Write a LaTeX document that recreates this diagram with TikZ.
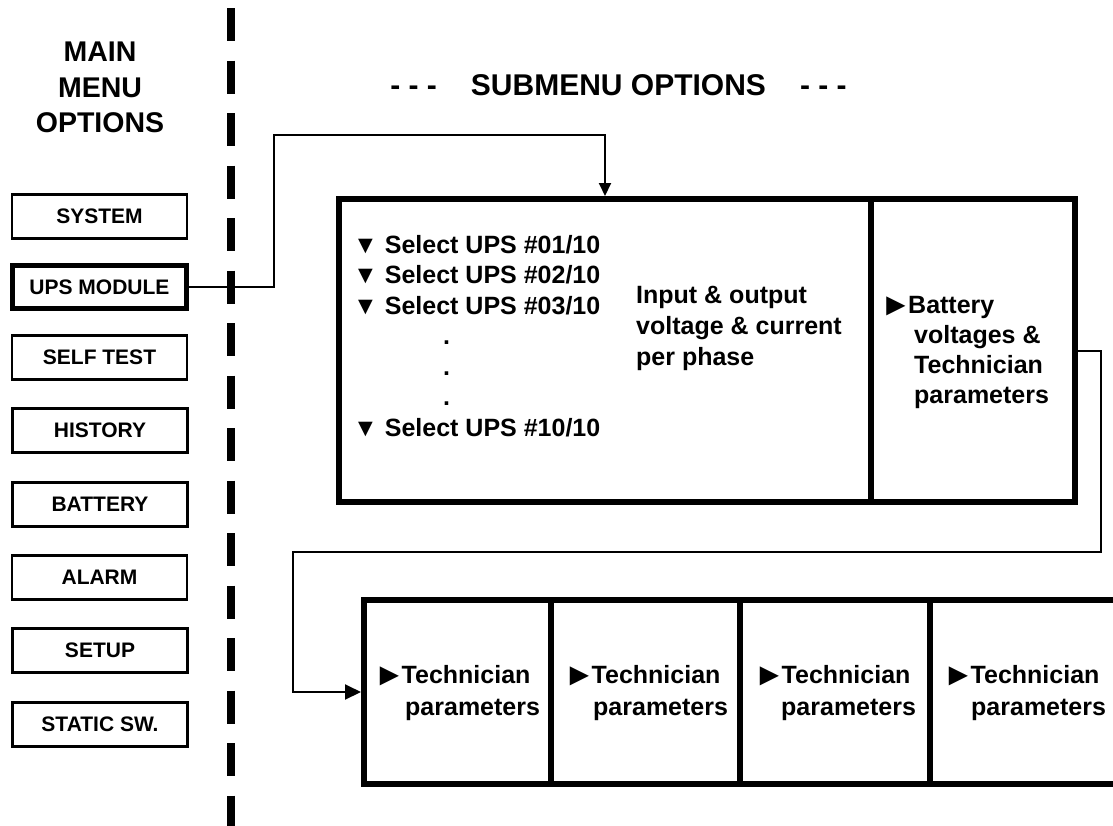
\documentclass[tikz,border=0pt]{standalone}
\usepackage{fontspec}
\setmainfont{Liberation Sans}
\usetikzlibrary{arrows.meta}
\newcommand{\ptr}{\makebox[28pt][l]{\raisebox{-2pt}{\fontsize{32}{30}\selectfont ►}}}
\begin{document}
\begin{tikzpicture}[x=1pt,y=-1pt,
  menubox/.style={draw, line width=2.4pt, minimum width=175pt, minimum height=44pt, inner sep=0pt, font=\bfseries\fontsize{21}{24}\selectfont},
  selbox/.style={menubox, line width=5pt, minimum width=174pt, minimum height=43pt},
  bigbox/.style={draw, line width=6pt, inner sep=0pt},
  cell/.style={bigbox, minimum height=184pt},
  txt/.style={anchor=base west, inner sep=0pt, font=\bfseries\fontsize{25}{30}\selectfont},
  ttl/.style={font=\bfseries\fontsize{28.5}{35.5}\selectfont, inner sep=0pt},
  conn/.style={line width=2pt, -{Triangle[length=13pt,width=12pt]}},
  conn2/.style={line width=2pt, -{Triangle[length=16pt,width=15pt]}},
  sep/.style={line width=8pt, dash pattern=on 33pt off 19.5pt}
]
\useasboundingbox (0,0) rectangle (1113,825);
\fill[white] (0,0) rectangle (1113,825);
\draw[sep] (231,8) -- (231,830);

\node[ttl, align=center] (mainttl) at (100,87.5) {MAIN\\MENU\\OPTIONS};
\node[ttl, font=\bfseries\fontsize{30}{36}\selectfont, anchor=base] (subttl) at (618.5,95) {- - -\hspace{34pt}SUBMENU OPTIONS\hspace{34pt}- - -};

\node[menubox] (system) at (99.5,216.5) {SYSTEM};
\node[selbox] (ups) at (99.5,287) {UPS MODULE};
\node[menubox] (selftest) at (99.5,357.5) {SELF TEST};
\node[menubox] (history) at (100,430.5) {HISTORY};
\node[menubox] (battery) at (100,504.5) {BATTERY};
\node[menubox] (alarm) at (99.5,577.5) {ALARM};
\node[menubox] (setup) at (100,650.5) {SETUP};
\node[menubox] (static) at (100,724.5) {STATIC SW.};

\node[bigbox, minimum width=532pt, minimum height=303pt] (b1l) at (605,350.5) {};
\node[bigbox, minimum width=204pt, minimum height=303pt] (b1r) at (973,350.5) {};

\node[cell, minimum width=187pt] (c1) at (457.5,692) {};
\node[cell, minimum width=189pt] (c2) at (645.5,692) {};
\node[cell, minimum width=190pt] (c3) at (835,692) {};
\node[cell, minimum width=190pt, draw=none, outer sep=0pt] (c4) at (1025,692) {};
\draw[line width=6pt] (c4.north east) -- (c4.north west) -- (c4.south west) -- (c4.south east);

\coordinate (j1) at (274,135);
\draw[conn] (ups.east) -| (j1) -| (b1l.north);
\coordinate (k1) at (1101,552);
\coordinate (k2) at (293,552);
\draw[conn2] (b1r.east) -| (k1) -- (k2) |- (c1.west);

\node[txt] (s1) at (353,253) {▼ Select UPS \#01/10};
\node[txt] (s2) at (353,283.5) {▼ Select UPS \#02/10};
\node[txt] (s3) at (353,314) {▼ Select UPS \#03/10};
\node[txt] (d1) at (443,344.5) {.};
\node[txt] (d2) at (443,375) {.};
\node[txt] (d3) at (443,405.5) {.};
\node[txt] (s10) at (353,436) {▼ Select UPS \#10/10};

\node[txt] (io1) at (636,303.5) {Input \& output};
\node[txt] (io2) at (636,334.5) {voltage \& current};
\node[txt] (io3) at (636,365) {per phase};

\node[txt] (bt1) at (880,313) {\ptr Battery};
\node[txt] (bt2) at (914,343) {voltages \&};
\node[txt] (bt3) at (914,373) {Technician};
\node[txt] (bt4) at (914,403) {parameters};

\node[txt] (t1a) at (373.5,683) {\ptr Technician};
\node[txt] (t1b) at (405,715) {parameters};
\node[txt] (t2a) at (563.5,683) {\ptr Technician};
\node[txt] (t2b) at (593,715) {parameters};
\node[txt] (t3a) at (753.5,683) {\ptr Technician};
\node[txt] (t3b) at (781,715) {parameters};
\node[txt] (t4a) at (942.5,683) {\ptr Technician};
\node[txt] (t4b) at (971,715) {parameters};
\end{tikzpicture}
\end{document}
